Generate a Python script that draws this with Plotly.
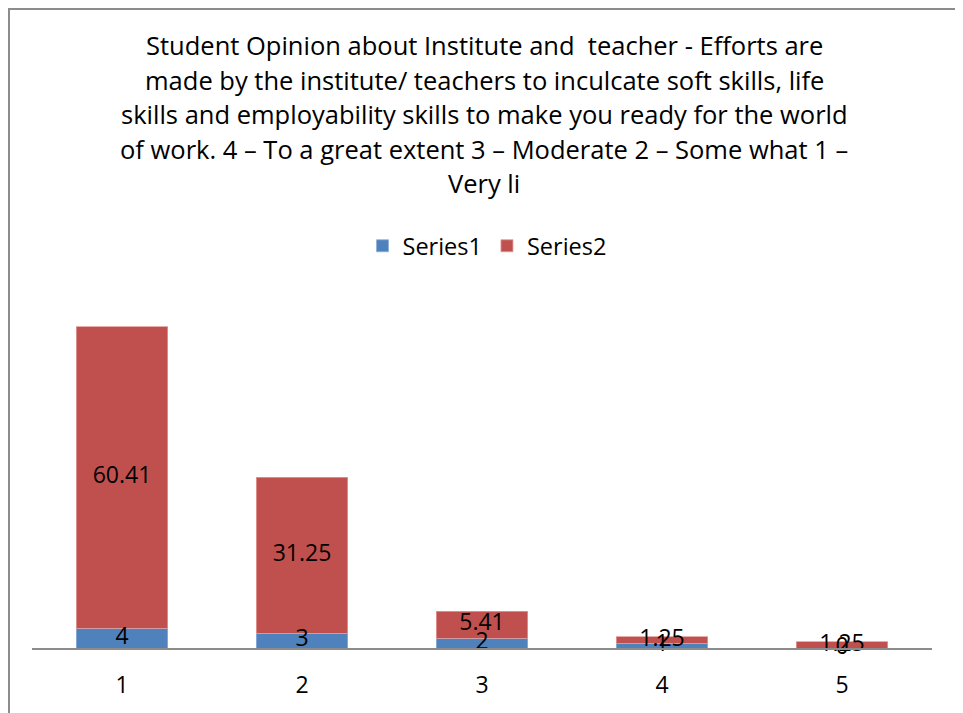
import plotly.graph_objects as go

categories = ["1", "2", "3", "4", "5"]
series1 = [4, 3, 2, 1, 0]
series2 = [60.41, 31.25, 5.41, 1.25, 1.25]
title_lines = [
    "Student Opinion about Institute and  teacher - Efforts are",
    "made by the institute/ teachers to inculcate soft skills, life",
    "skills and employability skills to make you ready for the world",
    "of work. 4 \u2013 To a great extent 3 \u2013 Moderate 2 \u2013 Some what 1 \u2013",
    "Very li",
]

FONT = "Open Sans"
OFF = 8  # page offset of the figure
W, H = 963, 713
ML, MR = 32 - OFF, W - (932 - OFF)
MT, MB = 299 - OFF, H - (648 - OFF)
PW = W - ML - MR
PH = H - MT - MB

fig = go.Figure()
fig.add_trace(go.Bar(x=categories, y=series1, name="Series1",
                     marker=dict(color="#4F81BD", line=dict(color="#8FB0DA", width=0.8))))
fig.add_trace(go.Bar(x=categories, y=series2, name="Series2",
                     marker=dict(color="#C0504D", line=dict(color="#E29A98", width=0.8))))

mid1 = [v / 2 for v in series1]
mid2 = [a + b / 2 for a, b in zip(series1, series2)]
fig.add_trace(go.Scatter(x=categories, y=mid1, mode="text", text=[str(v) for v in series1],
                         textposition="middle center", textfont=dict(size=23, color="black", family=FONT),
                         showlegend=False, cliponaxis=False, hoverinfo="skip"))
fig.add_trace(go.Scatter(x=categories, y=mid2, mode="text", text=[f"{v:g}" for v in series2],
                         textposition="middle center", textfont=dict(size=23, color="black", family=FONT),
                         showlegend=False, cliponaxis=False, hoverinfo="skip"))

def py(ypage):
    return (H - MB - (ypage - OFF)) / PH

def px(xpage):
    return ((xpage - OFF) - ML) / PW

annotations = []
for i, line in enumerate(title_lines):
    annotations.append(dict(text=line, x=px(484), xref="paper", y=py(45 + i * 34.5), yref="paper",
                            xanchor="center", yanchor="middle", showarrow=False,
                            font=dict(size=25.5, color="black", family=FONT)))

fig.update_layout(
    width=W, height=H,
    margin=dict(l=ML, r=MR, t=MT, b=MB),
    paper_bgcolor="white", plot_bgcolor="white",
    barmode="stack", bargap=0.49,
    font=dict(family=FONT, color="black"),
    annotations=annotations,
    legend=dict(orientation="h", x=px(487), xanchor="center", y=py(246), yanchor="middle",
                font=dict(size=23.5, family=FONT), itemwidth=30, traceorder="normal"),
    xaxis=dict(showline=True, linecolor="#8C8C8C", linewidth=2, ticks="", showgrid=False,
               tickfont=dict(size=23, family=FONT), ticklabelstandoff=15),
    yaxis=dict(range=[0, 70], visible=False, showgrid=False, zeroline=False),
    shapes=[dict(type="rect", xref="paper", yref="paper",
                 x0=(1 - ML) / PW, x1=(960 - OFF - ML) / PW,
                 y0=-0.5, y1=(H - MB - 1) / PH,
                 line=dict(color="#8C8C8C", width=2), fillcolor="rgba(0,0,0,0)")],
)
fig.write_html("out.html")
